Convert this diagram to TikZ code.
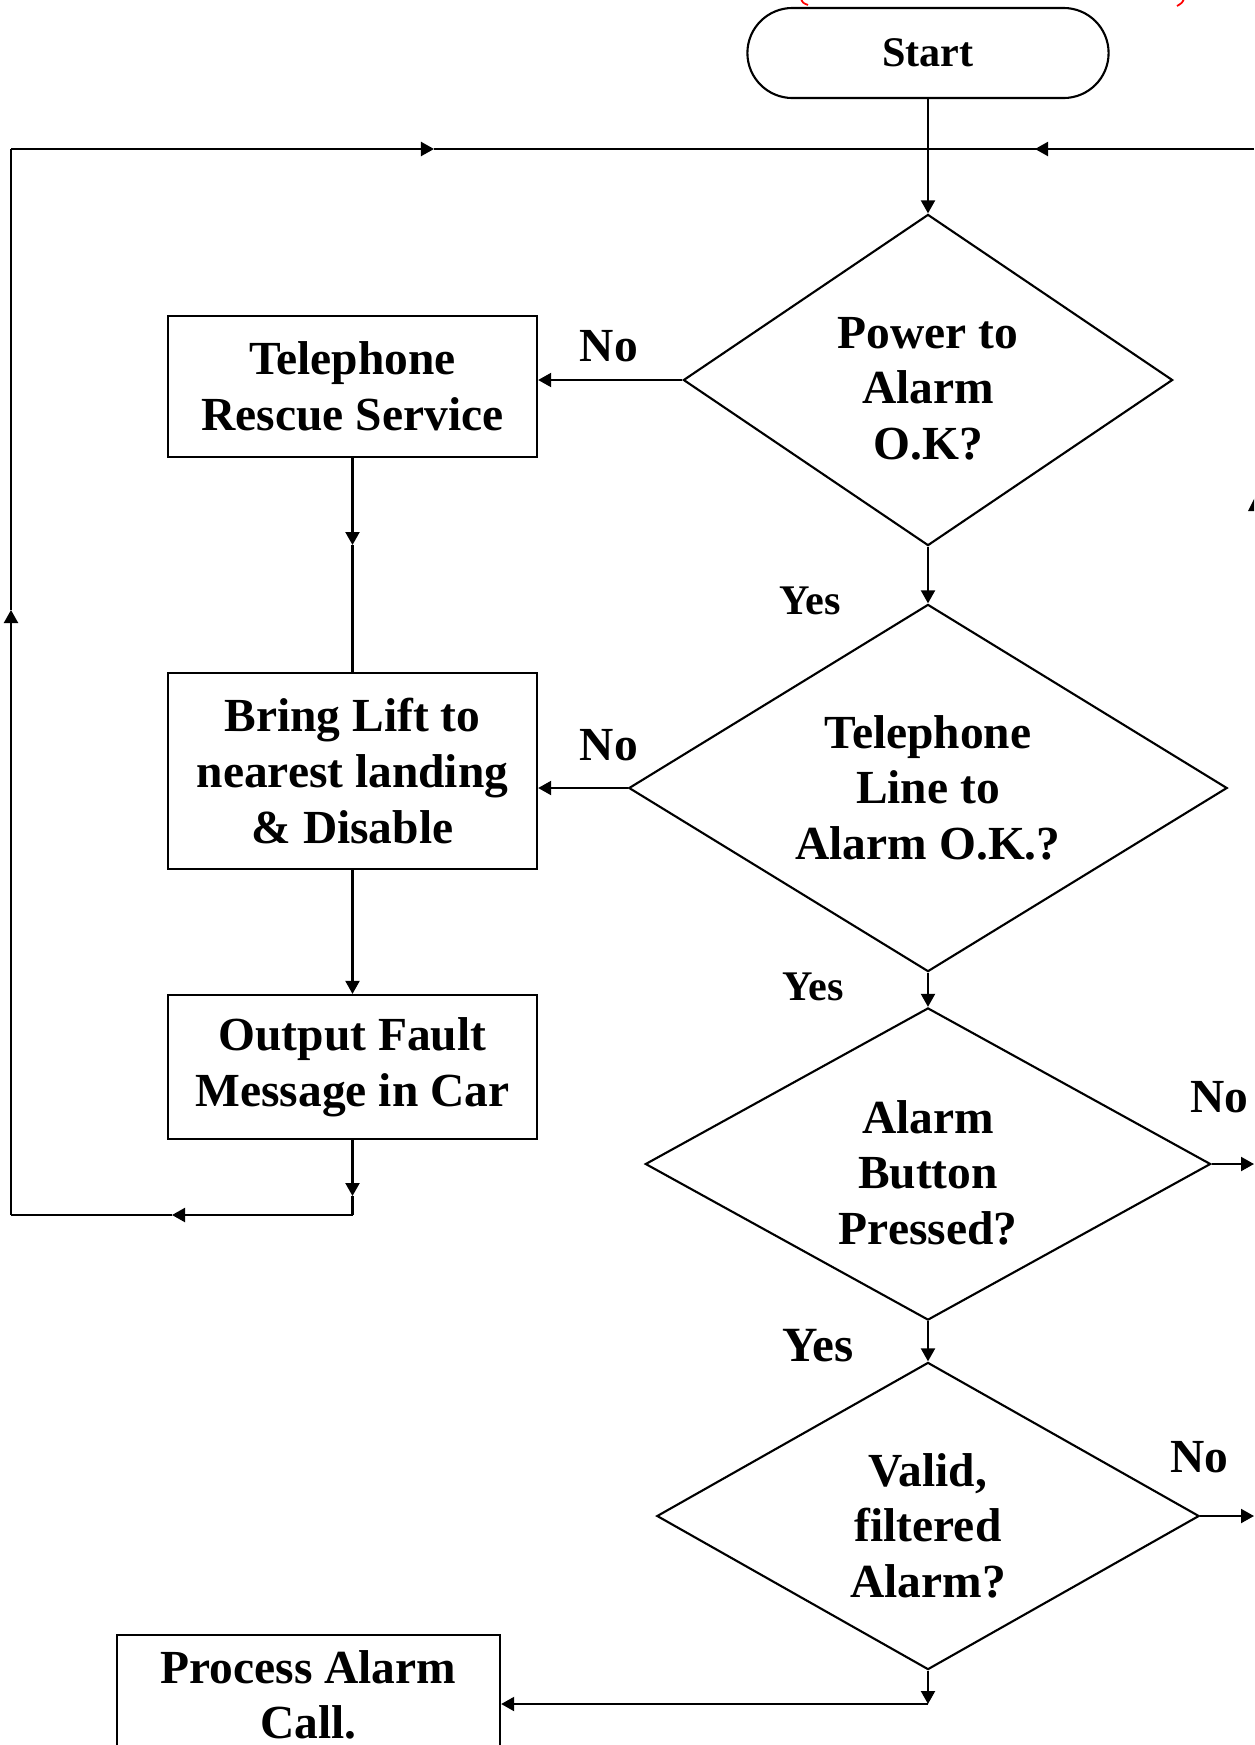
\documentclass[tikz,border=0pt]{standalone}
\usepackage{fontspec}
\setmainfont{Liberation Serif}
\usetikzlibrary{shapes.geometric,arrows.meta}
\newcommand{\shifttext}[2]{\raisebox{#1}[\height][\depth]{\begin{tabular}{@{}c@{}}#2\end{tabular}}}

\begin{document}
\begin{tikzpicture}[x=0.01cm, y=-0.01cm, line width=0.6pt,
  font=\bfseries\fontsize{13.5}{15.8}\selectfont,
  arr/.style={-{Triangle[length=1.3mm,width=1.4mm]}},
  box/.style={draw, rectangle, minimum width=3.69cm, align=center, inner sep=0pt},
  dec/.style={draw, diamond, inner sep=0pt},
  lbl/.style={inner sep=0pt},
  small/.style={font=\bfseries\fontsize{12}{14}\selectfont}]
  \useasboundingbox (0,0) rectangle (1254,1745);
  \clip (0,0) rectangle (1254,1745);

  \node[draw, small, rounded corners=0.45cm, minimum width=3.61cm, minimum height=0.9cm] (start) at (928,53) {Start};
  \node[dec, aspect=1.48, minimum width=4.89cm, minimum height=3.31cm] (d1) at (928,380) {\shifttext{-0.126cm}{Power to\\Alarm\\O.K?}};
  \node[dec, aspect=1.63, minimum width=5.98cm, minimum height=3.67cm] (d2) at (928,788) {\shifttext{-0.045cm}{Telephone\\Line to\\Alarm O.K.?}};
  \node[dec, aspect=1.81, minimum width=5.65cm, minimum height=3.12cm] (d3) at (928,1164) {\shifttext{-0.136cm}{Alarm\\Button\\Pressed?}};
  \node[dec, aspect=1.77, minimum width=5.42cm, minimum height=3.07cm] (d4) at (928,1516) {\shifttext{-0.146cm}{Valid,\\filtered\\Alarm?}};

  \node[box, minimum height=1.41cm] (b1) at (352.5,386.5) {Telephone\\Rescue Service};
  \node[box, minimum height=1.96cm] (b2) at (352.5,771) {Bring Lift to\\nearest landing\\\& Disable};
  \node[box, minimum height=1.44cm] (b3) at (352.5,1067) {Output Fault\\Message in Car};
  \node[box, minimum width=3.83cm, minimum height=1.2cm] (b4) at (308.5,1695) {Process Alarm\\Call.};

  \node[lbl] (no1) at (609,346) {No};
  \node[lbl] (no2) at (609,745) {No};
  \node[lbl] (no3) at (1219,1097) {No};
  \node[lbl] (no4) at (1199,1457) {No};
  \node[lbl, small] (yes1) at (810,601) {Yes};
  \node[lbl, small] (yes2) at (813,987) {Yes};
  \node[lbl, font=\bfseries\fontsize{14}{16}\selectfont] (yes3) at (818,1346) {Yes};

  \coordinate (tl) at (11,149);
  \coordinate (tr) at (1254,149);
  \coordinate (bl) at (11,1215);
  \coordinate (br) at (352.5,1215);
  \coordinate (pa) at (928,1704);
  \coordinate (m1) at (434,149);
  \coordinate (m2) at (1035,149);
  \coordinate (m3) at (11,610);
  \coordinate (m4) at (172,1215);
  \coordinate (m5) at (352.5,545);
  \coordinate (m6) at (352.5,1196);

  \draw[arr] (tl) -- (m1);
  \draw (m1) -- (tr);
  \draw[arr] (tr) -- (m2);
  \draw[arr] (start) -- (d1);
  \draw[arr] (d1) -- (d2);
  \draw[arr] (d2) -- (d3);
  \draw[arr] (d3) -- (d4);
  \draw[arr] (d1.west) -- (d1.west -| b1.east);
  \draw[arr] (d2.west) -- (d2.west -| b2.east);
  \draw[arr] (d3.east) -- (d3.east -| tr);
  \draw[arr] (d4.east) -- (d4.east -| tr);
  \draw[arr] (d4) -- (pa);
  \draw[arr] (pa) -- (pa -| b4.east);

  \draw[arr] (b1) -- (m5);
  \draw (m5) -- (b2);
  \draw[arr] (b2) -- (b3);
  \draw[arr] (b3) -- (m6);
  \draw (m6) -- (br);
  \draw[arr] (br) -- (m4);
  \draw (m4) -- (bl);
  \draw[arr] (bl) -- (m3);
  \draw (m3) -- (tl);

  % cut-off bits at the top and right edges
  \draw[red, line width=0.5pt] (801,-1) .. controls (803,3) .. (808,5);
  \draw[red, line width=0.5pt] (1184,-1) .. controls (1182,3) .. (1177,6);
  \fill (1255,497) -- (1248,511) -- (1262,511) -- cycle;
\end{tikzpicture}
\end{document}
